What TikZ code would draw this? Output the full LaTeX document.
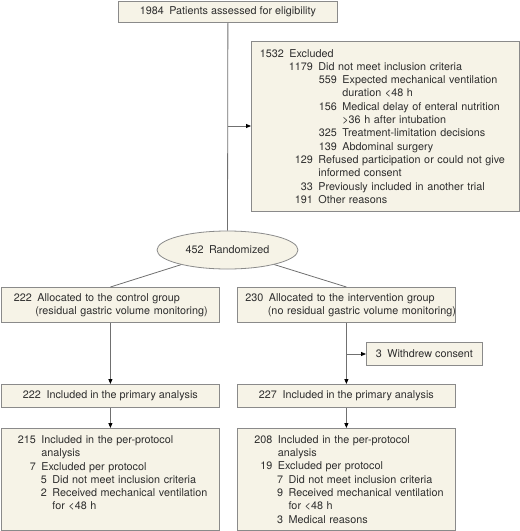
\documentclass[tikz,border=0pt]{standalone}
\usepackage{fontspec}
\setmainfont{TeX Gyre Heros}
\usetikzlibrary{arrows.meta,shapes.geometric}
\definecolor{boxfill}{HTML}{F6F3E7}
\definecolor{boxline}{HTML}{8A8A8A}
\definecolor{conn}{HTML}{707070}
\definecolor{txt}{HTML}{2E2E2E}
\newcommand\gp{\hspace{5.5pt}}
\newcommand\ent[3]{\mbox{\hspace*{\dimexpr#1pt-5.5pt\relax}\llap{#2}\hspace*{5.5pt}#3}}
\newcommand\cont[2]{\mbox{\hspace*{#1pt}#2}}
\begin{document}
\begin{tikzpicture}[x=1pt,y=-1pt,
  every node/.style={font=\fontsize{10.8}{13.3}\selectfont, text=txt},
  box/.style={draw=boxline, fill=boxfill, line width=0.8pt, inner sep=0pt, anchor=north west},
  conline/.style={draw=conn, line width=0.8pt},
  arr/.style={conline, -{Triangle[length=5pt,width=4pt,fill=black,color=black]}}
]
\useasboundingbox (0,0) rectangle (520,531);

% boxes
\node[box, minimum width=219pt, minimum height=21pt] (top) at (118,1)
  {1984\gp Patients assessed for eligibility};

\node[box, text width=268pt, minimum height=170pt, align=left] (excl) at (251,41) {%
\ent{38}{1532}{Excluded}\\
\ent{67}{1179}{Did not meet inclusion criteria}\\
\ent{91}{559}{Expected mechanical ventilation}\\
\cont{91}{duration <48 h}\\
\ent{91}{156}{Medical delay of enteral nutrition}\\
\cont{91}{>36 h after intubation}\\
\ent{91}{325}{Treatment-limitation decisions}\\
\ent{91}{139}{Abdominal surgery}\\
\ent{67}{129}{Refused participation or could not give}\\
\cont{67}{informed consent}\\
\ent{67}{33}{Previously included in another trial}\\
\ent{67}{191}{Other reasons}};

\node[ellipse, draw=boxline, fill=boxfill, line width=0.8pt, minimum width=141pt, minimum height=38pt, inner sep=0pt] (rand) at (227.5,250)
  {452\gp Randomized};

\node[box, text width=218pt, minimum height=35pt, align=left] (ctrl) at (1,287) {%
\ent{36}{222}{Allocated to the control group}\\
\cont{34}{(residual gastric volume monitoring)}};

\node[box, text width=218pt, minimum height=35pt, align=left] (intv) at (237,287) {%
\ent{31.5}{230}{Allocated to the intervention group}\\
\cont{30.5}{(no residual gastric volume monitoring)}};

\node[box, minimum width=116pt, minimum height=23pt] (withd) at (366,342)
  {3\gp Withdrew consent};

\node[box, minimum width=218pt, minimum height=23pt] (prim1) at (1,384)
  {222\gp Included in the primary analysis};
\node[box, minimum width=218pt, minimum height=23pt] (prim2) at (237,384)
  {227\gp Included in the primary analysis};

\node[box, text width=218pt, minimum height=102pt, align=left] (pp1) at (1,428) {%
\ent{40}{215}{Included in the per-protocol}\\
\cont{40}{analysis}\\
\ent{40}{7}{Excluded per protocol}\\
\ent{51}{5}{Did not meet inclusion criteria}\\
\ent{51}{2}{Received mechanical ventilation}\\
\cont{51}{for <48 h}\\
\mbox{}};

\node[box, text width=218pt, minimum height=102pt, align=left] (pp2) at (237,428) {%
\ent{40.5}{208}{Included in the per-protocol}\\
\cont{40.5}{analysis}\\
\ent{40.5}{19}{Excluded per protocol}\\
\ent{51.2}{7}{Did not meet inclusion criteria}\\
\ent{51.2}{9}{Received mechanical ventilation}\\
\cont{51.2}{for <48 h}\\
\ent{51.2}{3}{Medical reasons}};

% connectors
\coordinate (j1) at (227.5,126);
\coordinate (j2) at (346,354);
\draw[conline] (top.south) -- (rand.north);
\draw[arr] (j1) -- (excl.west |- j1);
\draw[conline] (rand) -- (ctrl.north);
\draw[conline] (rand) -- (intv.north);
\draw[arr] (ctrl.south) -- (prim1.north);
\draw[arr] (intv.south) -- (prim2.north);
\draw[arr] (j2) -- (withd.west |- j2);
\draw[arr] (prim1.south) -- (pp1.north);
\draw[arr] (prim2.south) -- (pp2.north);
\end{tikzpicture}
\end{document}
